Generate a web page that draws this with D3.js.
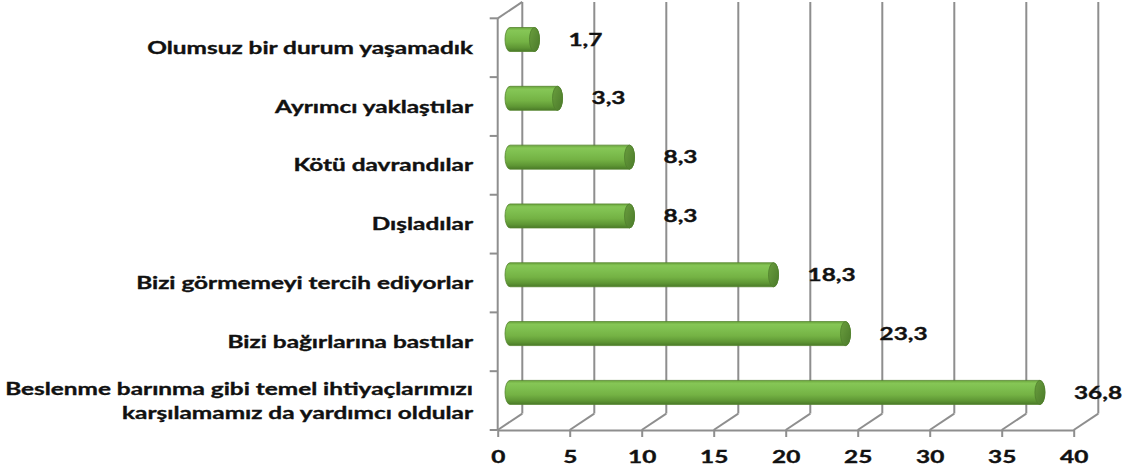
<!DOCTYPE html>
<html>
<head>
<meta charset="utf-8">
<script src="https://cdn.jsdelivr.net/npm/d3@7"></script>
<style>
  html, body { margin: 0; padding: 0; background: #ffffff; }
  svg { display: block; }
  text { font-family: Lato, "Open Sans", sans-serif; font-weight: 700; fill: #111111; stroke: #111111; stroke-width: 0.35px; }
</style>
</head>
<body>
<svg id="chart" width="1125" height="474"></svg>
<script>
// Categories (top to bottom) and their percentages
const categories = [
  "Olumsuz bir durum yaşamadık",
  "Ayrımcı yaklaştılar",
  "Kötü davrandılar",
  "Dışladılar",
  "Bizi görmemeyi tercih ediyorlar",
  "Bizi bağırlarına bastılar",
  "Beslenme barınma gibi temel ihtiyaçlarımızı\nkarşılamamız da yardımcı oldular"
];
const values = [1.7, 3.3, 8.3, 8.3, 18.3, 23.3, 36.8];
const tickValues = [0, 5, 10, 15, 20, 25, 30, 35, 40];

const fmt = v => String(v).replace(".", ",");
const fontSize = 17;

const svg = d3.select("#chart");

// Text in this chart is set wide; derive the horizontal stretch from one label
const probe = svg.append("text").attr("font-size", fontSize).text(categories[0]);
const stretch = 326 / probe.node().getComputedTextLength();
probe.remove();

// Front plane scales
const x = d3.scaleLinear().domain([0, 40]).range([497.7, 1073.7]);
const y = d3.scaleBand().domain(categories).range([18.3, 430]).paddingInner(0).paddingOuter(0);

// 3-D depth offset (back wall relative to front plane)
const depth = { dx: 24.6, dy: -16.4 };
const floorY = y.range()[1];
const topY = y.range()[0];
const gridColor = "#8e8e8e";

// ---- walls and gridlines ----
const walls = svg.append("g").attr("fill", "none").attr("stroke", gridColor).attr("stroke-width", 2);

// back-wall vertical gridlines
walls.selectAll("line.grid").data(tickValues).join("line")
  .attr("class", "grid")
  .attr("x1", d => x(d) + depth.dx).attr("x2", d => x(d) + depth.dx)
  .attr("y1", topY + depth.dy).attr("y2", floorY + depth.dy);

// floor diagonals from each front tick to the back wall
walls.selectAll("line.floor").data(tickValues).join("line")
  .attr("class", "floor")
  .attr("x1", d => x(d)).attr("x2", d => x(d) + depth.dx)
  .attr("y1", floorY).attr("y2", floorY + depth.dy);

// side wall: front edge and top edge
walls.append("line")
  .attr("x1", x(0)).attr("x2", x(0)).attr("y1", topY).attr("y2", floorY);
walls.append("line")
  .attr("x1", x(0)).attr("x2", x(0) + depth.dx).attr("y1", topY).attr("y2", topY + depth.dy);

// category boundary ticks on the side wall
const bounds = categories.map(c => y(c)).concat([floorY]);
walls.selectAll("line.ctick").data(bounds).join("line")
  .attr("class", "ctick")
  .attr("x1", x(0) - 8).attr("x2", x(0))
  .attr("y1", d => d).attr("y2", d => d);

// ---- bottom value axis ----
const axis = svg.append("g")
  .attr("transform", `translate(0,${floorY})`)
  .call(d3.axisBottom(x).tickValues(tickValues).tickSize(7).tickSizeOuter(0).tickPadding(14).tickFormat(d => d));
axis.select(".domain").attr("stroke", gridColor).attr("stroke-width", 2);
axis.selectAll(".tick line").attr("stroke", gridColor).attr("stroke-width", 2);
axis.selectAll(".tick text")
  .attr("font-family", "Lato, sans-serif").attr("font-weight", 700)
  .attr("font-size", fontSize).attr("fill", "#111111")
  .attr("transform", `scale(${stretch},1)`);

// ---- cylinders ----
const defs = svg.append("defs");
const bodyGrad = defs.append("linearGradient").attr("id", "body").attr("x1", 0).attr("y1", 0).attr("x2", 0).attr("y2", 1);
[[0, "#6aa53c"], [0.12, "#86c656"], [0.3, "#7fc050"], [0.6, "#74b244"], [0.85, "#5e9634"], [1, "#4a7a28"]]
  .forEach(([o, c]) => bodyGrad.append("stop").attr("offset", o).attr("stop-color", c));
const capGrad = defs.append("linearGradient").attr("id", "cap").attr("x1", 0).attr("y1", 0).attr("x2", 1).attr("y2", 1);
[[0, "#6a9e3e"], [1, "#4b7a2a"]].forEach(([o, c]) => capGrad.append("stop").attr("offset", o).attr("stop-color", c));

const barH = 24;
const rx = 5;
const ry = barH / 2;
const cy = c => y(c) + y.bandwidth() / 2 + depth.dy / 2;
const xs = x(0) + depth.dx / 2;
const xe = v => x(v) + depth.dx / 2;

const bars = svg.append("g").selectAll("g").data(categories.map((c, i) => ({ c, v: values[i] }))).join("g");

bars.append("path")
  .attr("fill", "url(#body)")
  .attr("stroke", "#55852f").attr("stroke-width", 0.8)
  .attr("d", d => {
    const yc = cy(d.c), a = xs, b = xe(d.v);
    return `M${a},${yc - ry} L${b},${yc - ry} A${rx},${ry} 0 0 1 ${b},${yc + ry} L${a},${yc + ry} A${rx},${ry} 0 0 1 ${a},${yc - ry} Z`;
  });

bars.append("ellipse")
  .attr("cx", d => xe(d.v)).attr("cy", d => cy(d.c))
  .attr("rx", rx).attr("ry", ry)
  .attr("fill", "url(#cap)").attr("stroke", "#4f7f2c").attr("stroke-width", 0.8);

// value labels
bars.append("text")
  .attr("transform", d => `translate(${xe(d.v) + 34},${cy(d.c)}) scale(${stretch},1)`)
  .attr("dy", "0.36em")
  .attr("font-size", fontSize)
  .text(d => fmt(d.v));

// ---- category labels ----
const labels = svg.append("g").selectAll("text").data(categories).join("text")
  .attr("text-anchor", "end")
  .attr("font-size", fontSize)
  .attr("transform", c => `translate(473,${y(c) + y.bandwidth() / 2}) scale(${stretch},1)`);

labels.each(function (c) {
  const lines = c.split("\n");
  const t = d3.select(this);
  const lh = 24;
  lines.forEach((ln, i) => {
    t.append("tspan")
      .attr("x", 0)
      .attr("y", (i - (lines.length - 1) / 2) * lh)
      .attr("dy", "0.36em")
      .text(ln);
  });
});
</script>
</body>
</html>
